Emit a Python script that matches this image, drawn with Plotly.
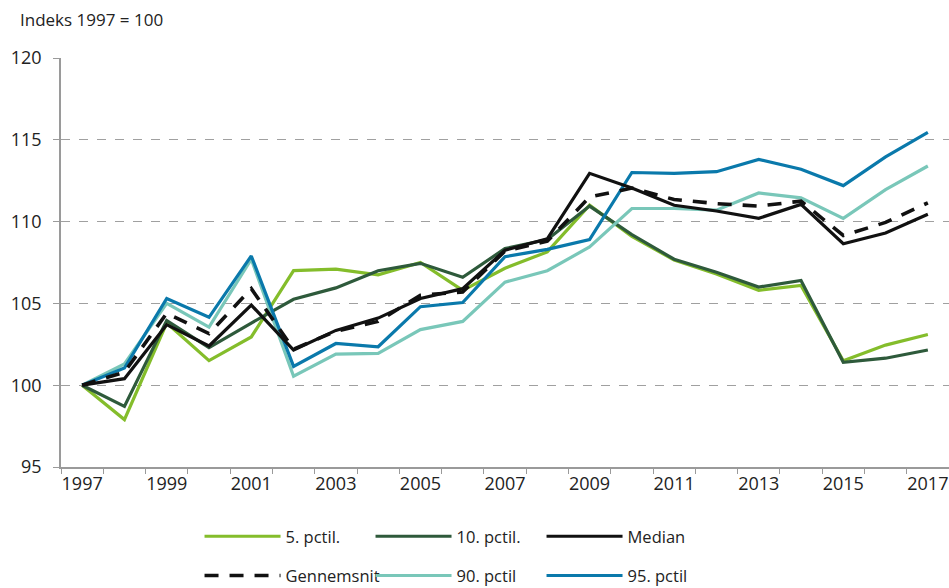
import plotly.graph_objects as go

years = list(range(1997, 2018))

p5 = [100, 97.9, 103.8, 101.5, 102.95, 107.0, 107.1, 106.75, 107.5, 105.8, 107.15, 108.15,
      111.0, 109.1, 107.65, 106.8, 105.8, 106.1, 101.5, 102.45, 103.1]
p10 = [100, 98.7, 103.95, 102.3, 103.8, 105.25, 105.95, 107.0, 107.45, 106.6, 108.35, 108.9,
       110.95, 109.2, 107.7, 106.9, 106.0, 106.4, 101.4, 101.65, 102.15]
median = [100, 100.4, 103.7, 102.4, 104.9, 102.15, 103.35, 104.1, 105.3, 105.9, 108.25, 108.95,
          112.95, 112.05, 111.0, 110.65, 110.2, 111.05, 108.65, 109.3, 110.45]
mean = [100, 100.8, 104.4, 103.15, 105.9, 102.2, 103.3, 103.9, 105.5, 105.7, 108.2, 108.8,
        111.5, 112.05, 111.35, 111.1, 110.95, 111.25, 109.15, 109.95, 111.15]
p90 = [100, 101.3, 105.0, 103.55, 107.7, 100.55, 101.9, 101.95, 103.4, 103.9, 106.3, 107.0,
       108.45, 110.8, 110.8, 110.7, 111.75, 111.45, 110.2, 111.95, 113.4]
p95 = [100, 101.05, 105.3, 104.15, 107.9, 101.15, 102.55, 102.35, 104.8, 105.05, 107.85, 108.3,
       108.9, 113.0, 112.95, 113.05, 113.8, 113.2, 112.2, 113.95, 115.45]

names = ["5. pctil.", "10. pctil.", "Median", "Gennemsnit", "90. pctil", "95. pctil"]
series = [p5, p10, median, mean, p90, p95]
colors = ["#84bd2b", "#2e5a3b", "#111111", "#111111", "#79c7b9", "#0a79ab"]
dashes = ["solid", "solid", "solid", "14px,11px", "solid", "solid"]
legends = ["legend", "legend", "legend", "legend2", "legend2", "legend2"]

y_ticks = [95, 100, 105, 110, 115, 120]
x_labels = list(range(1997, 2018, 2))

fig = go.Figure()
order = [0, 1, 4, 5, 3, 2]  # drawing order: median & mean on top
for i in order:
    fig.add_trace(go.Scatter(
        x=years, y=series[i], name=names[i], mode="lines",
        line=dict(color=colors[i], width=3.2 if i != 3 else 3.6, dash=dashes[i]),
        legend=legends[i], legendrank=i,
    ))

font = "Open Sans, Noto Sans, sans-serif"
leg_common = dict(orientation="h", xanchor="left", yanchor="middle",
                  entrywidth=80, itemwidth=76, font=dict(size=16.5), traceorder="normal",
                  bgcolor="rgba(0,0,0,0)")
fig.update_layout(
    width=949, height=588,
    margin=dict(l=61, r=0, t=58, b=121, autoexpand=False),
    plot_bgcolor="white", paper_bgcolor="white",
    font=dict(family=font, size=16, color="#222222"),
    showlegend=True,
    legend=dict(x=0.156, y=-0.170, **leg_common),
    legend2=dict(x=0.156, y=-0.266, **leg_common),
    annotations=[dict(text="Indeks 1997 = 100", xref="paper", yref="paper",
                      x=-0.0485, y=1.093, xanchor="left", yanchor="middle",
                      showarrow=False, font=dict(size=17, color="#222222"))],
)
fig.update_xaxes(
    range=[1996.5, 2017.5], tickmode="array", tickvals=x_labels,
    ticktext=[str(v) for v in x_labels], ticks="", showgrid=False,
    showline=True, linecolor="#9a9a9a", linewidth=1.5, zeroline=False,
    tickfont=dict(size=18),
    minor=dict(tickmode="linear", tick0=1996.5, dtick=1, ticks="outside",
               ticklen=5, tickcolor="#9a9a9a", tickwidth=1, showgrid=False),
)
fig.update_yaxes(
    range=[95, 120], tickmode="array", tickvals=y_ticks, ticks="outside",
    ticklen=6, tickcolor="#9a9a9a", tickwidth=1,
    showgrid=True, gridcolor="#a0a0a0", griddash="dash", gridwidth=1,
    showline=True, linecolor="#9a9a9a", linewidth=1.5, zeroline=False,
    tickfont=dict(size=18), ticklabelstandoff=8,
)
fig.write_html("out.html", config={"displayModeBar": False},
               post_script="document.body.style.margin='0';")
